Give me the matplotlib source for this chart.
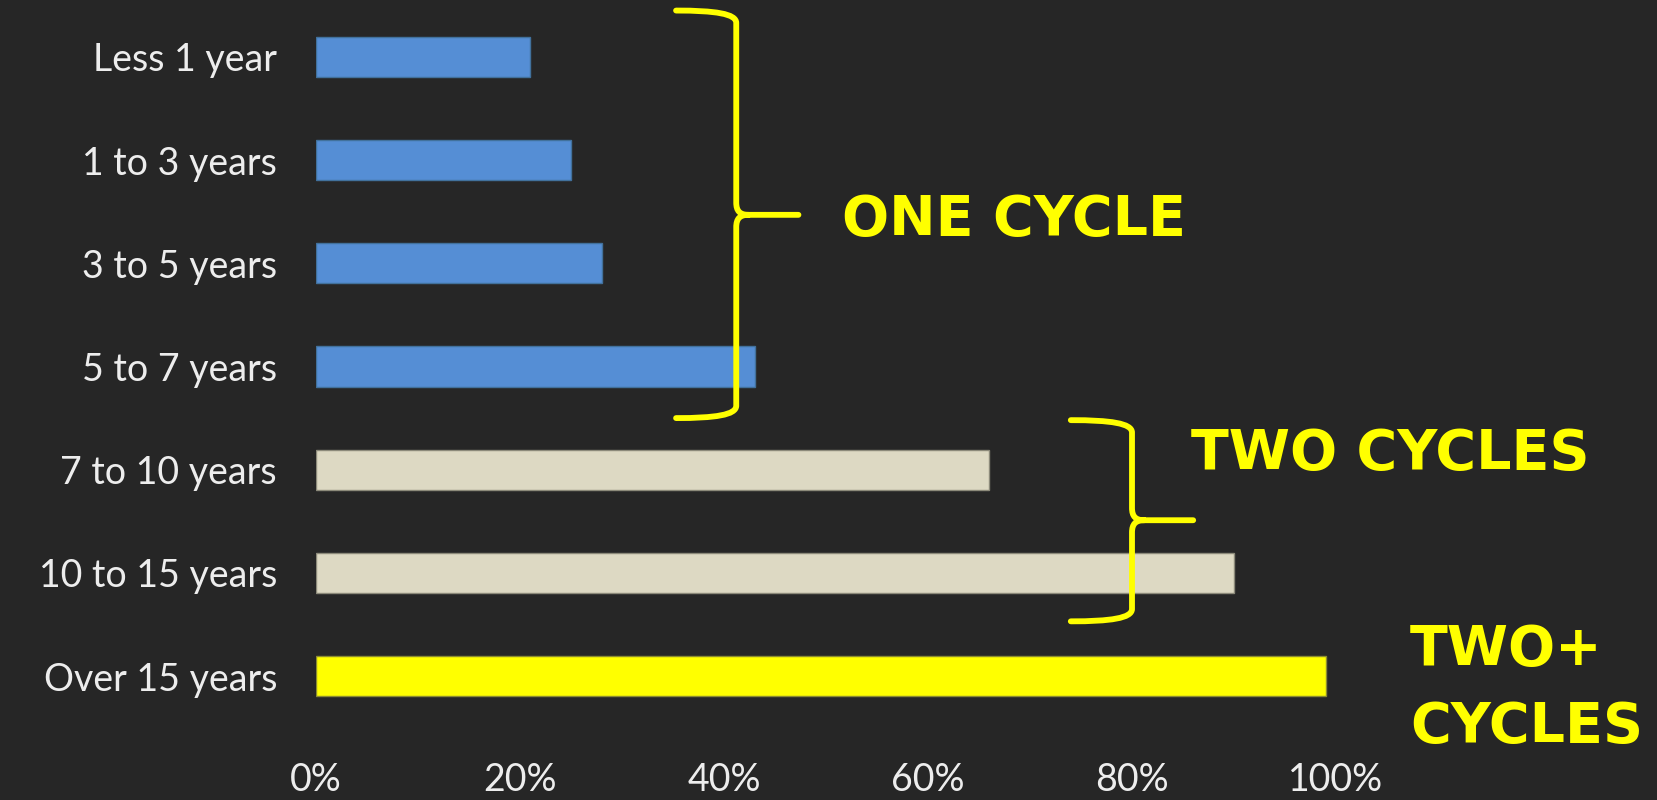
import numpy as np
import matplotlib.pyplot as plt
from matplotlib.path import Path
from matplotlib.patches import PathPatch

# 数据
categories = ['Less 1 year', '1 to 3 years', '3 to 5 years', '5 to 7 years',
              '7 to 10 years', '10 to 15 years', 'Over 15 years']
values = [0.21, 0.25, 0.28, 0.43, 0.66, 0.90, 0.99]
groups = ['one', 'one', 'one', 'one', 'two', 'two', 'twoplus']
xticks = [0, 0.2, 0.4, 0.6, 0.8, 1.0]
xtick_labels = ['0%', '20%', '40%', '60%', '80%', '100%']

bg = '#262626'
fill = {'one': '#558ED5', 'two': '#DDD9C3', 'twoplus': '#FFFF00'}
edge = {'one': '#41719C', 'two': '#8C8A7A', 'twoplus': '#8C8C30'}
yellow = '#FFFF00'
txt_color = '#EDEDED'

plt.rcParams['font.family'] = ['Lato', 'DejaVu Sans']

fig = plt.figure(figsize=(16.57, 8), dpi=100, facecolor=bg)
ax = fig.add_axes([316 / 1657, 1 - 727.6 / 800, 1020 / 1657, 722.2 / 800])
ax.set_facecolor(bg)

y = np.arange(len(categories))
ax.barh(y, values, height=0.39,
        color=[fill[g] for g in groups],
        edgecolor=[edge[g] for g in groups], linewidth=1.0)

ax.set_xlim(0, 1)
ax.set_ylim(len(categories) - 0.5, -0.5)
ax.set_yticks(y)
ax.set_yticklabels(categories, fontsize=27, color=txt_color)
ax.set_xticks(xticks)
ax.set_xticklabels(xtick_labels, fontsize=27, color=txt_color)
ax.tick_params(axis='y', length=0, pad=28)
ax.tick_params(axis='x', length=0, pad=25)
for s in ax.spines.values():
    s.set_visible(False)


# 大括号
def brace(ax, x, y_top, y_bot, y_tip, arm, tip, rx, ry):
    verts = [(x - arm, y_top),
             (x - arm * 0.35, y_top), (x, y_top + ry * 0.25), (x, y_top + ry),
             (x, y_tip - ry),
             (x, y_tip - ry * 0.3), (x + rx * 0.3, y_tip), (x + rx, y_tip),
             (x + tip, y_tip),
             (x + rx, y_tip),
             (x + rx * 0.3, y_tip), (x, y_tip + ry * 0.3), (x, y_tip + ry),
             (x, y_bot - ry),
             (x, y_bot - ry * 0.25), (x - arm * 0.35, y_bot), (x - arm, y_bot)]
    codes = [Path.MOVETO,
             Path.CURVE4, Path.CURVE4, Path.CURVE4,
             Path.LINETO,
             Path.CURVE4, Path.CURVE4, Path.CURVE4,
             Path.LINETO,
             Path.MOVETO,
             Path.CURVE4, Path.CURVE4, Path.CURVE4,
             Path.LINETO,
             Path.CURVE4, Path.CURVE4, Path.CURVE4]
    p = PathPatch(Path(verts, codes), fill=False, edgecolor=yellow, lw=4.2,
                  capstyle='round', joinstyle='round', clip_on=False)
    ax.add_patch(p)


brace(ax, 0.412, -0.45, 3.50, 1.53, 0.059, 0.061, 0.012, 0.12)
brace(ax, 0.80, 3.52, 5.47, 4.49, 0.060, 0.060, 0.012, 0.12)

ann = dict(color=yellow, fontsize=40, fontweight='bold', ha='left', va='center',
           clip_on=False, family=['DejaVu Sans'])
ax.text(0.516, 1.58, 'ONE CYCLE', **ann)
ax.text(0.858, 3.85, 'TWO CYCLES', **ann)
ax.text(1.0725, 6.12, 'TWO+\nCYCLES', linespacing=1.55, **ann)

plt.savefig('out.png', dpi=100, facecolor=bg)
